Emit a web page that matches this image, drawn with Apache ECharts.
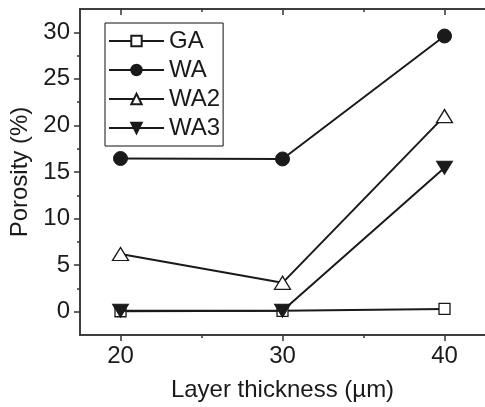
<!DOCTYPE html>
<html><head><meta charset="utf-8">
<script src="https://cdn.jsdelivr.net/npm/echarts@6/dist/echarts.min.js"></script>
<style>html,body{margin:0;padding:0;background:#fff}#c{width:485px;height:407px}</style>
</head><body><div id="c"></div>
<script>
const thickness = [20, 30, 40];
const GA  = [0.05, 0.1, 0.3];
const WA  = [16.45, 16.4, 29.6];
const WA2 = [6.2, 3.1, 21.0];
const WA3 = [0.1, 0.1, 15.45];
const xMajor = [20, 30, 40];
const xMinor = [25, 35];
const yMajor = [0, 5, 10, 15, 20, 25, 30];
const yMinor = [2.5, 7.5, 12.5, 17.5, 22.5, 27.5];

const FONT = '"Liberation Sans", Arial, sans-serif';
const INK = '#1a1a1a';
const AX = '#333';
const xr = {min: 17.5, max: 42.5};
const yr = {min: -2.5, max: 32.5};

function pts(arr){ return thickness.map((x,i)=>[x, arr[i]]); }

function xAxisDef(pos, vals, len, inside, showLabel, extra){
  return Object.assign({
    type:'value', position: pos, min: xr.min, max: xr.max, gridIndex:0,
    axisLine:{show:true, onZero:false, lineStyle:{color:AX, width:1.5}},
    axisTick:{show:true, customValues: vals, length: len, inside: inside, lineStyle:{color:AX, width:1.5}},
    axisLabel:{show: showLabel, customValues: vals, color: INK, fontSize: 24, fontFamily: FONT, margin: 9},
    splitLine:{show:false}
  }, extra||{});
}
function yAxisDef(vals, len, showLabel, extra){
  return Object.assign({
    type:'value', position:'left', min: yr.min, max: yr.max, gridIndex:0,
    axisLine:{show:true, onZero:false, lineStyle:{color:AX, width:1.5}},
    axisTick:{show:true, customValues: vals, length: len, inside:false, lineStyle:{color:AX, width:1.5}},
    axisLabel:{show: showLabel, customValues: vals, color: INK, fontSize: 24, fontFamily: FONT, margin: 10},
    splitLine:{show:false}
  }, extra||{});
}

const chart = echarts.init(document.getElementById('c'), null, {renderer:'canvas'});
const lineStyle = {color: INK, width: 2};
chart.setOption({
  animation:false,
  grid:{left:80, top:9, width:412, height:332, containLabel:false},
  legend:{
    orient:'vertical', left:105, top:23,
    data:['GA','WA','WA2','WA3'],
    itemWidth:55, itemHeight:13, itemGap:5,
    padding:[6,3,6,3],
    borderColor:'#111', borderWidth:1,
    textStyle:{color:INK, fontSize:24, fontFamily:FONT, padding:[0,0,0,0]}
  },
  xAxis:[
    xAxisDef('bottom', xMajor, 6, false, true, {name:'Layer thickness (µm)', nameLocation:'middle', nameGap:43,
      nameTextStyle:{color:INK, fontSize:24, fontFamily:FONT}}),
    xAxisDef('bottom', xMinor, 3, false, false),
    xAxisDef('top', xMajor, 6, true, false),
    xAxisDef('top', xMinor, 3, true, false)
  ],
  yAxis:[
    yAxisDef(yMajor, 6, true, {name:'Porosity (%)', nameLocation:'middle', nameGap:37,
      nameTextStyle:{color:INK, fontSize:24, fontFamily:FONT}}),
    yAxisDef(yMinor, 3, false)
  ],
  series:[
    {name:'GA', type:'line', data:pts(GA), symbol:'rect', symbolSize:11, lineStyle, itemStyle:{color:'#fff', borderColor:INK, borderWidth:1.3}, z:2},
    {name:'WA', type:'line', data:pts(WA), symbol:'circle', symbolSize:14, lineStyle, itemStyle:{color:INK, borderColor:INK, borderWidth:1}, z:3},
    {name:'WA2', type:'line', data:pts(WA2), symbol:'triangle', symbolSize:[16,13], lineStyle, itemStyle:{color:'#fff', borderColor:INK, borderWidth:1.3}, z:4},
    {name:'WA3', type:'line', data:pts(WA3), symbol:'triangle', symbolRotate:180, symbolSize:[16,13], lineStyle, itemStyle:{color:INK, borderColor:INK, borderWidth:1}, z:5}
  ]
});
</script></body></html>
